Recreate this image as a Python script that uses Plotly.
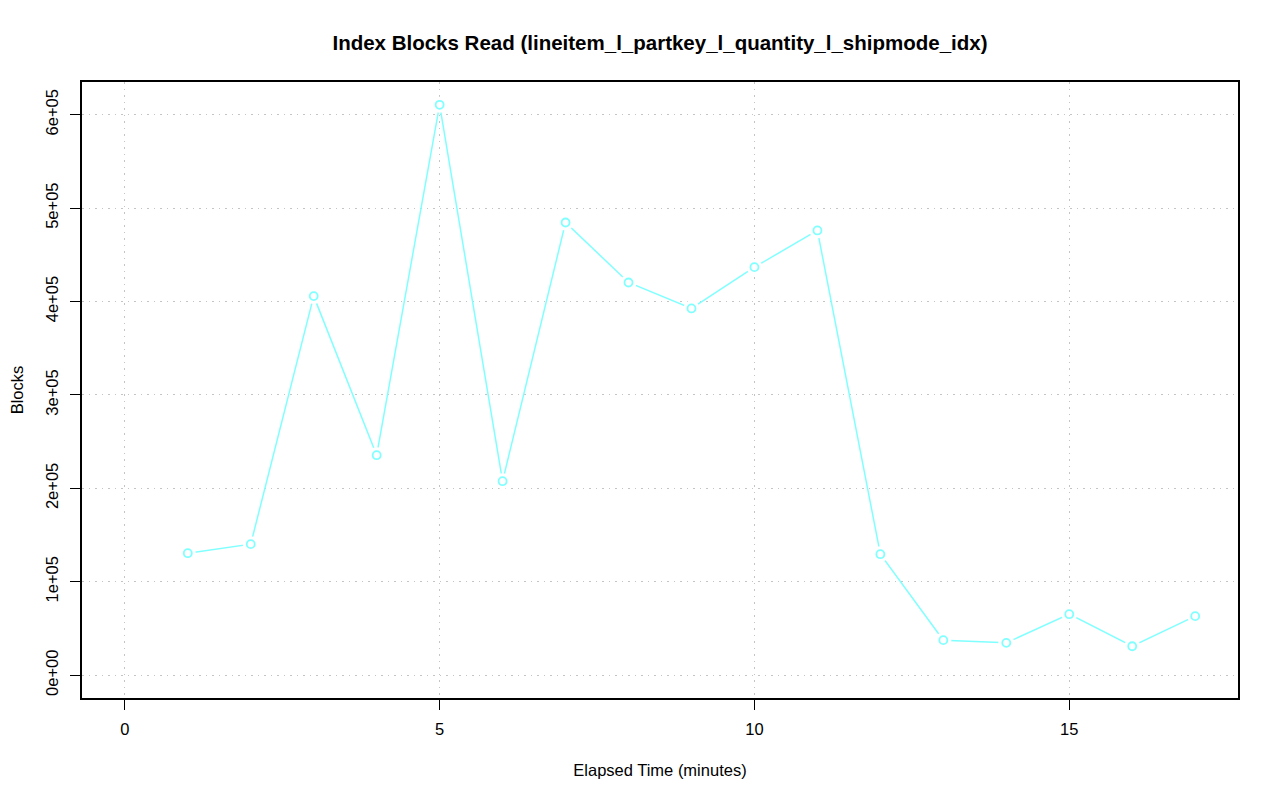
import plotly.graph_objects as go

minutes = list(range(1, 18))
blocks = [130600, 140300, 405800, 235500, 610600, 207700, 484600, 420400,
          392600, 436800, 476100, 129500, 37500, 34600, 65300, 31000, 63200]
x_ticks = [0, 5, 10, 15]
y_ticks = [0, 100000, 200000, 300000, 400000, 500000, 600000]
y_tick_labels = ["0e+00", "1e+05", "2e+05", "3e+05", "4e+05", "5e+05", "6e+05"]

line_col = "#80FFFF"
font = "Liberation Sans, Arial, Helvetica, sans-serif"
fs = 16.5

# page body has an 8px margin: compensate so the plot lands where the reference has it
W, H = 1264, 785
OFF = 8

fig = go.Figure()
fig.add_trace(go.Scatter(x=minutes, y=blocks, mode="lines",
                         line=dict(color=line_col, width=1.5), hoverinfo="skip"))
# white discs to open gaps around points (R type="b")
fig.add_trace(go.Scatter(x=minutes, y=blocks, mode="markers",
                         marker=dict(symbol="circle", size=16, color="white",
                                     line=dict(width=0)), hoverinfo="skip"))
fig.add_trace(go.Scatter(x=minutes, y=blocks, mode="markers",
                         marker=dict(symbol="circle-open", size=8, color=line_col,
                                     line=dict(width=1.8, color=line_col))))

ymax = max(blocks)
ypad = 0.04 * ymax
axis_common = dict(showline=True, linecolor="black", linewidth=2, mirror=True,
                   ticks="outside", ticklen=10, tickcolor="black", tickwidth=1.2,
                   showgrid=True, gridcolor="#C4C4C4", griddash="1.5px,5px", gridwidth=1.4,
                   zeroline=False, ticklabelstandoff=5, automargin=False,
                   tickfont=dict(family=font, size=fs, color="black"))

fig.update_layout(
    width=W, height=H,
    paper_bgcolor="white", plot_bgcolor="white",
    showlegend=False,
    margin=dict(l=82 - OFF, r=OFF + W - 1238, t=82 - OFF, b=OFF + H - 698, pad=0),
    title=dict(text="<b>Index Blocks Read (lineitem_l_partkey_l_quantity_l_shipmode_idx)</b>",
               x=0.5, xref="paper", xanchor="center", y=1 - (43 - OFF) / H, yanchor="middle",
               font=dict(family=font, size=20.5, color="black")),
    xaxis=dict(range=[-0.68, 17.68], tickvals=x_ticks, ticktext=[str(v) for v in x_ticks],
               title=dict(text="Elapsed Time (minutes)", standoff=28,
                          font=dict(family=font, size=fs, color="black")),
               **axis_common),
    yaxis=dict(range=[-ypad, ymax + ypad], tickvals=y_ticks, ticktext=y_tick_labels,
               tickangle=-90,
               title=dict(text="Blocks", standoff=19,
                          font=dict(family=font, size=fs, color="black")),
               **axis_common),
)

fig.write_html("out.html")
